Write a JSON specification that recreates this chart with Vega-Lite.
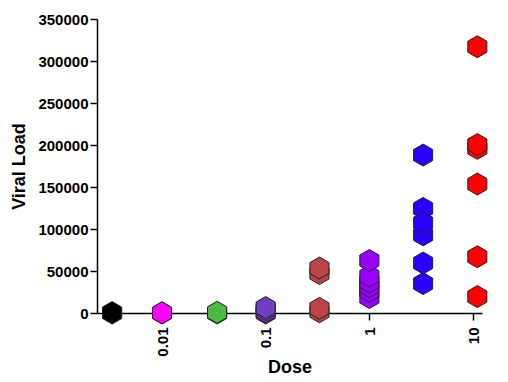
{
  "$schema": "https://vega.github.io/schema/vega-lite/v6.json",
  "autosize": "none",
  "width": 385,
  "height": 294,
  "padding": {"left": 97, "top": 19, "right": 26, "bottom": 69},
  "background": "white",
  "config": {
    "view": {"stroke": null},
    "font": "Liberation Sans",
    "axis": {
      "grid": false,
      "domainColor": "black",
      "domainWidth": 1.5,
      "tickColor": "black",
      "tickWidth": 1.5,
      "tickSize": 7,
      "labelColor": "black",
      "labelFont": "Liberation Sans",
      "labelFontWeight": "bold",
      "labelFontSize": 15,
      "titleColor": "black",
      "titleFont": "Liberation Sans",
      "titleFontWeight": "bold",
      "titleFontSize": 18
    }
  },
  "data": {
    "values": [
      {"dose": 0.0033, "load": 0, "group": "g1"},
      {"dose": 0.0033, "load": 500, "group": "g1"},
      {"dose": 0.01, "load": 0, "group": "g2"},
      {"dose": 0.01, "load": 300, "group": "g2"},
      {"dose": 0.034, "load": 0, "group": "g3"},
      {"dose": 0.034, "load": 800, "group": "g3"},
      {"dose": 0.1, "load": 0, "group": "g4"},
      {"dose": 0.1, "load": 1500, "group": "g4"},
      {"dose": 0.1, "load": 4200, "group": "g4"},
      {"dose": 0.1, "load": 6500, "group": "g4"},
      {"dose": 0.33, "load": 1500, "group": "g5"},
      {"dose": 0.33, "load": 5500, "group": "g5"},
      {"dose": 0.33, "load": 47000, "group": "g5"},
      {"dose": 0.33, "load": 53500, "group": "g5"},
      {"dose": 1, "load": 18500, "group": "g6"},
      {"dose": 1, "load": 26000, "group": "g6"},
      {"dose": 1, "load": 31500, "group": "g6"},
      {"dose": 1, "load": 37000, "group": "g6"},
      {"dose": 1, "load": 44000, "group": "g6"},
      {"dose": 1, "load": 62500, "group": "g6"},
      {"dose": 3.3, "load": 35000, "group": "g7"},
      {"dose": 3.3, "load": 59500, "group": "g7"},
      {"dose": 3.3, "load": 93000, "group": "g7"},
      {"dose": 3.3, "load": 124500, "group": "g7"},
      {"dose": 3.3, "load": 107500, "group": "g7"},
      {"dose": 3.3, "load": 188000, "group": "g7"},
      {"dose": 11, "load": 19500, "group": "g8"},
      {"dose": 11, "load": 67000, "group": "g8"},
      {"dose": 11, "load": 153500, "group": "g8"},
      {"dose": 11, "load": 196000, "group": "g8"},
      {"dose": 11, "load": 200500, "group": "g8"},
      {"dose": 11, "load": 317000, "group": "g8"}
    ]
  },
  "mark": {
    "type": "point",
    "filled": true,
    "shape": "M0,-1L0.866,-0.5L0.866,0.5L0,1L-0.866,0.5L-0.866,-0.5Z",
    "size": 484,
    "opacity": 1,
    "stroke": "#222222",
    "strokeWidth": 1
  },
  "encoding": {
    "x": {
      "field": "dose",
      "type": "quantitative",
      "title": "Dose",
      "scale": {"type": "log", "domain": [0.00236, 12.2], "nice": false},
      "axis": {
        "values": [0.01, 0.1, 1, 10],
        "format": "~g",
        "labelAngle": -90,
        "labelPadding": 7,
        "titlePadding": 2,
        "labelFlush": false,
        "labelOverlap": false
      }
    },
    "y": {
      "field": "load",
      "type": "quantitative",
      "title": "Viral Load",
      "scale": {"domain": [0, 350000], "nice": false},
      "axis": {
        "values": [0, 50000, 100000, 150000, 200000, 250000, 300000, 350000],
        "format": "d",
        "labelPadding": 2,
        "titlePadding": 9,
        "labelFlush": false,
        "labelOverlap": false
      }
    },
    "color": {
      "field": "group",
      "type": "nominal",
      "legend": null,
      "scale": {
        "domain": ["g1", "g2", "g3", "g4", "g5", "g6", "g7", "g8"],
        "range": ["#000000", "#ff00ff", "#4cbb40", "#6f3fbf", "#bb4444", "#9900ff", "#2b00ff", "#ff0000"]
      }
    }
  }
}
